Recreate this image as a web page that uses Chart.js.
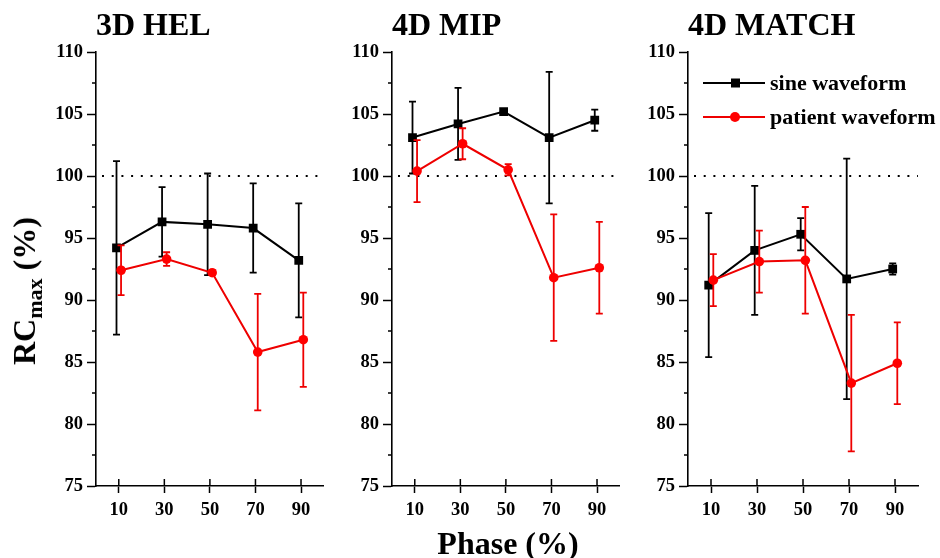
<!DOCTYPE html>
<html>
<head>
<meta charset="utf-8">
<script src="https://cdn.jsdelivr.net/npm/chart.js@4/dist/chart.umd.min.js"></script>
<style>
  body { margin: 0; background: #fff; }
  #wrap { position: relative; width: 940px; height: 558px; overflow: hidden; background: #fff; }
  canvas { position: absolute; top: 0; }
  .lbl { position: absolute; font-family: 'Liberation Serif', 'Times New Roman', serif; font-weight: bold; color: #000; white-space: nowrap; }
  #ytitle { left: 27px; top: 291px; font-size: 32px; transform: translate(-50%, -50%) rotate(-90deg); }
  #ytitle sub { font-size: 22px; vertical-align: -7px; }
  #xtitle { left: 508px; top: 543px; font-size: 32px; transform: translate(-50%, -50%); }
</style>
</head>
<body>
<div id="wrap">
  <canvas id="hel" width="284" height="531" style="left:46px"></canvas>
  <canvas id="mip" width="284" height="531" style="left:342px"></canvas>
  <canvas id="match" width="302" height="531" style="left:638px"></canvas>
  <div class="lbl" id="ytitle">RC<sub>max</sub> (%)</div>
  <div class="lbl" id="xtitle">Phase (%)</div>
</div>
<script>
'use strict';

const phases = [10, 30, 50, 70, 90];
const panelTitles = ['3D HEL', '4D MIP', '4D MATCH'];
const seriesNames = ['sine waveform', 'patient waveform'];

// RCmax (%) at each phase, and the +/- error
const sineHEL = [94.2, 96.3, 96.1, 95.8, 93.2];
const sineHELErr = [7.0, 2.8, 4.1, 3.6, 4.6];
const patientHEL = [92.4, 93.3, 92.2, 85.8, 86.8];
const patientHELErr = [2.0, 0.55, 0.2, 4.7, 3.8];

const sineMIP = [103.1, 104.2, 105.2, 103.1, 104.5];
const sineMIPErr = [2.9, 2.9, 0.15, 5.3, 0.85];
const patientMIP = [100.4, 102.6, 100.5, 91.8, 92.6];
const patientMIPErr = [2.5, 1.25, 0.45, 5.1, 3.7];

const sineMATCH = [91.2, 94.0, 95.3, 91.7, 92.5];
const sineMATCHErr = [5.8, 5.2, 1.3, 9.7, 0.45];
const patientMATCH = [91.6, 93.1, 93.2, 83.3, 84.9];
const patientMATCHErr = [2.1, 2.5, 4.3, 5.5, 3.3];

const yMin = 75;
const yMax = 110;
const refLine = 100;

const serif = "'Liberation Serif', 'Times New Roman', serif";
const black = '#000';
const red = '#f00';
const redLine = '#e00';

// error bars, reference line, extra ticks, panel title and legend
const decor = {
    id: 'decor',
    beforeDatasetsDraw(chart) {
        let ctx = chart.ctx;
        let area = chart.chartArea;
        let y = chart.scales.y.getPixelForValue(refLine);
        ctx.save();
        ctx.strokeStyle = black;
        ctx.lineWidth = 2;
        ctx.setLineDash([2, 7.7]);
        ctx.beginPath();
        ctx.moveTo(area.left + 6, y);
        ctx.lineTo(area.right, y);
        ctx.stroke();
        ctx.restore();
    },
    beforeDatasetDraw(chart, args) {
        let ds = chart.data.datasets[args.index];
        let yScale = chart.scales.y;
        let ctx = chart.ctx;
        ctx.save();
        ctx.strokeStyle = ds.errorColor;
        ctx.lineWidth = 1.8;
        ctx.beginPath();
        args.meta.data.forEach((pt, i) => {
            let v = ds.data[i].y;
            let e = ds.errors[i];
            let top = yScale.getPixelForValue(v + e);
            let bot = yScale.getPixelForValue(v - e);
            ctx.moveTo(pt.x, top);
            ctx.lineTo(pt.x, bot);
            ctx.moveTo(pt.x - 3.5, top);
            ctx.lineTo(pt.x + 3.5, top);
            ctx.moveTo(pt.x - 3.5, bot);
            ctx.lineTo(pt.x + 3.5, bot);
        });
        ctx.stroke();
        ctx.restore();
    },
    afterDraw(chart, args, opts) {
        let ctx = chart.ctx;
        let area = chart.chartArea;
        let xScale = chart.scales.x;
        let yScale = chart.scales.y;
        ctx.save();
        ctx.strokeStyle = black;
        ctx.lineWidth = 1.5;
        ctx.beginPath();
        // x ticks also go up into the plot
        phases.forEach(p => {
            let x = xScale.getPixelForValue(p);
            ctx.moveTo(x, area.bottom);
            ctx.lineTo(x, area.bottom - 7);
        });
        // short minor ticks on y
        for (let v = yMin + 2.5; v < yMax; v += 5) {
            let y = yScale.getPixelForValue(v);
            ctx.moveTo(area.left - 4, y);
            ctx.lineTo(area.left, y);
        }
        ctx.stroke();

        ctx.fillStyle = black;
        ctx.font = 'bold 32px ' + serif;
        ctx.textBaseline = 'alphabetic';
        ctx.textAlign = 'left';
        ctx.fillText(opts.title, area.left, 35);

        if (opts.legend) {
            chart.data.datasets.forEach((ds, i) => {
                let y = area.top + 31 + i * 34;
                let x0 = area.left + 15;
                ctx.strokeStyle = ds.borderColor;
                ctx.lineWidth = 2;
                ctx.beginPath();
                ctx.moveTo(x0, y);
                ctx.lineTo(x0 + 62, y);
                ctx.stroke();
                ctx.fillStyle = ds.pointBackgroundColor;
                if (ds.pointStyle === 'rect') {
                    ctx.fillRect(x0 + 28, y - 4.5, 9, 9);
                } else {
                    ctx.beginPath();
                    ctx.arc(x0 + 32, y, 5, 0, Math.PI * 2);
                    ctx.fill();
                }
                ctx.fillStyle = black;
                ctx.font = 'bold 22px ' + serif;
                ctx.textBaseline = 'middle';
                ctx.fillText(ds.label, x0 + 67, y + 1);
            });
        }
        ctx.restore();
    }
};

function makeSeries(name, values, errors, shift, isSine) {
    return {
        label: name,
        data: phases.map((p, i) => ({ x: p + shift, y: values[i] })),
        errors: errors,
        borderColor: isSine ? black : redLine,
        errorColor: isSine ? black : redLine,
        borderWidth: 2,
        pointStyle: isSine ? 'rect' : 'circle',
        pointRadius: isSine ? 6.2 : 4.8,
        pointBorderWidth: 0,
        pointBackgroundColor: isSine ? black : red,
        backgroundColor: isSine ? black : red,
        tension: 0,
        fill: false,
        order: isSine ? 2 : 1
    };
}

function drawPanel(canvasId, title, sine, sineErr, patient, patientErr, padRight, showLegend) {
    let tickFont = { family: serif, weight: 'bold', size: 18.5 };
    return new Chart(document.getElementById(canvasId), {
        type: 'line',
        data: {
            datasets: [
                makeSeries(seriesNames[0], sine, sineErr, -1, true),
                makeSeries(seriesNames[1], patient, patientErr, 1, false)
            ]
        },
        options: {
            responsive: false,
            animation: false,
            layout: { padding: { top: 52, right: padRight, left: 0, bottom: 0 } },
            plugins: {
                legend: { display: false },
                tooltip: { enabled: false },
                decor: { title: title, legend: showLegend }
            },
            scales: {
                x: {
                    type: 'linear',
                    min: 0,
                    max: 100,
                    afterBuildTicks: scale => {
                        scale.ticks = phases.map(v => ({ value: v }));
                    },
                    afterFit: scale => {
                        scale.height = 45;
                    },
                    ticks: { font: tickFont, color: black, padding: 6, autoSkip: false, maxRotation: 0 },
                    grid: { drawOnChartArea: false, tickLength: 7, tickColor: black, tickWidth: 1.5 },
                    border: { color: black, width: 1.6 }
                },
                y: {
                    min: yMin,
                    max: yMax,
                    afterFit: scale => {
                        scale.width = 50;
                    },
                    ticks: {
                        stepSize: 2.5,
                        autoSkip: false,
                        font: tickFont,
                        color: black,
                        padding: 4,
                        callback: v => (v % 5 === 0 ? v : '')
                    },
                    grid: {
                        drawOnChartArea: false,
                        tickLength: 9,
                        tickWidth: 1.5,
                        tickColor: c => (c.tick && c.tick.value % 5 === 0 ? black : 'rgba(0,0,0,0)')
                    },
                    border: { color: black, width: 1.6 }
                }
            }
        },
        plugins: [decor]
    });
}

drawPanel('hel', panelTitles[0], sineHEL, sineHELErr, patientHEL, patientHELErr, 4, false);
drawPanel('mip', panelTitles[1], sineMIP, sineMIPErr, patientMIP, patientMIPErr, 4, false);
drawPanel('match', panelTitles[2], sineMATCH, sineMATCHErr, patientMATCH, patientMATCHErr, 22, true);
</script>
</body>
</html>
